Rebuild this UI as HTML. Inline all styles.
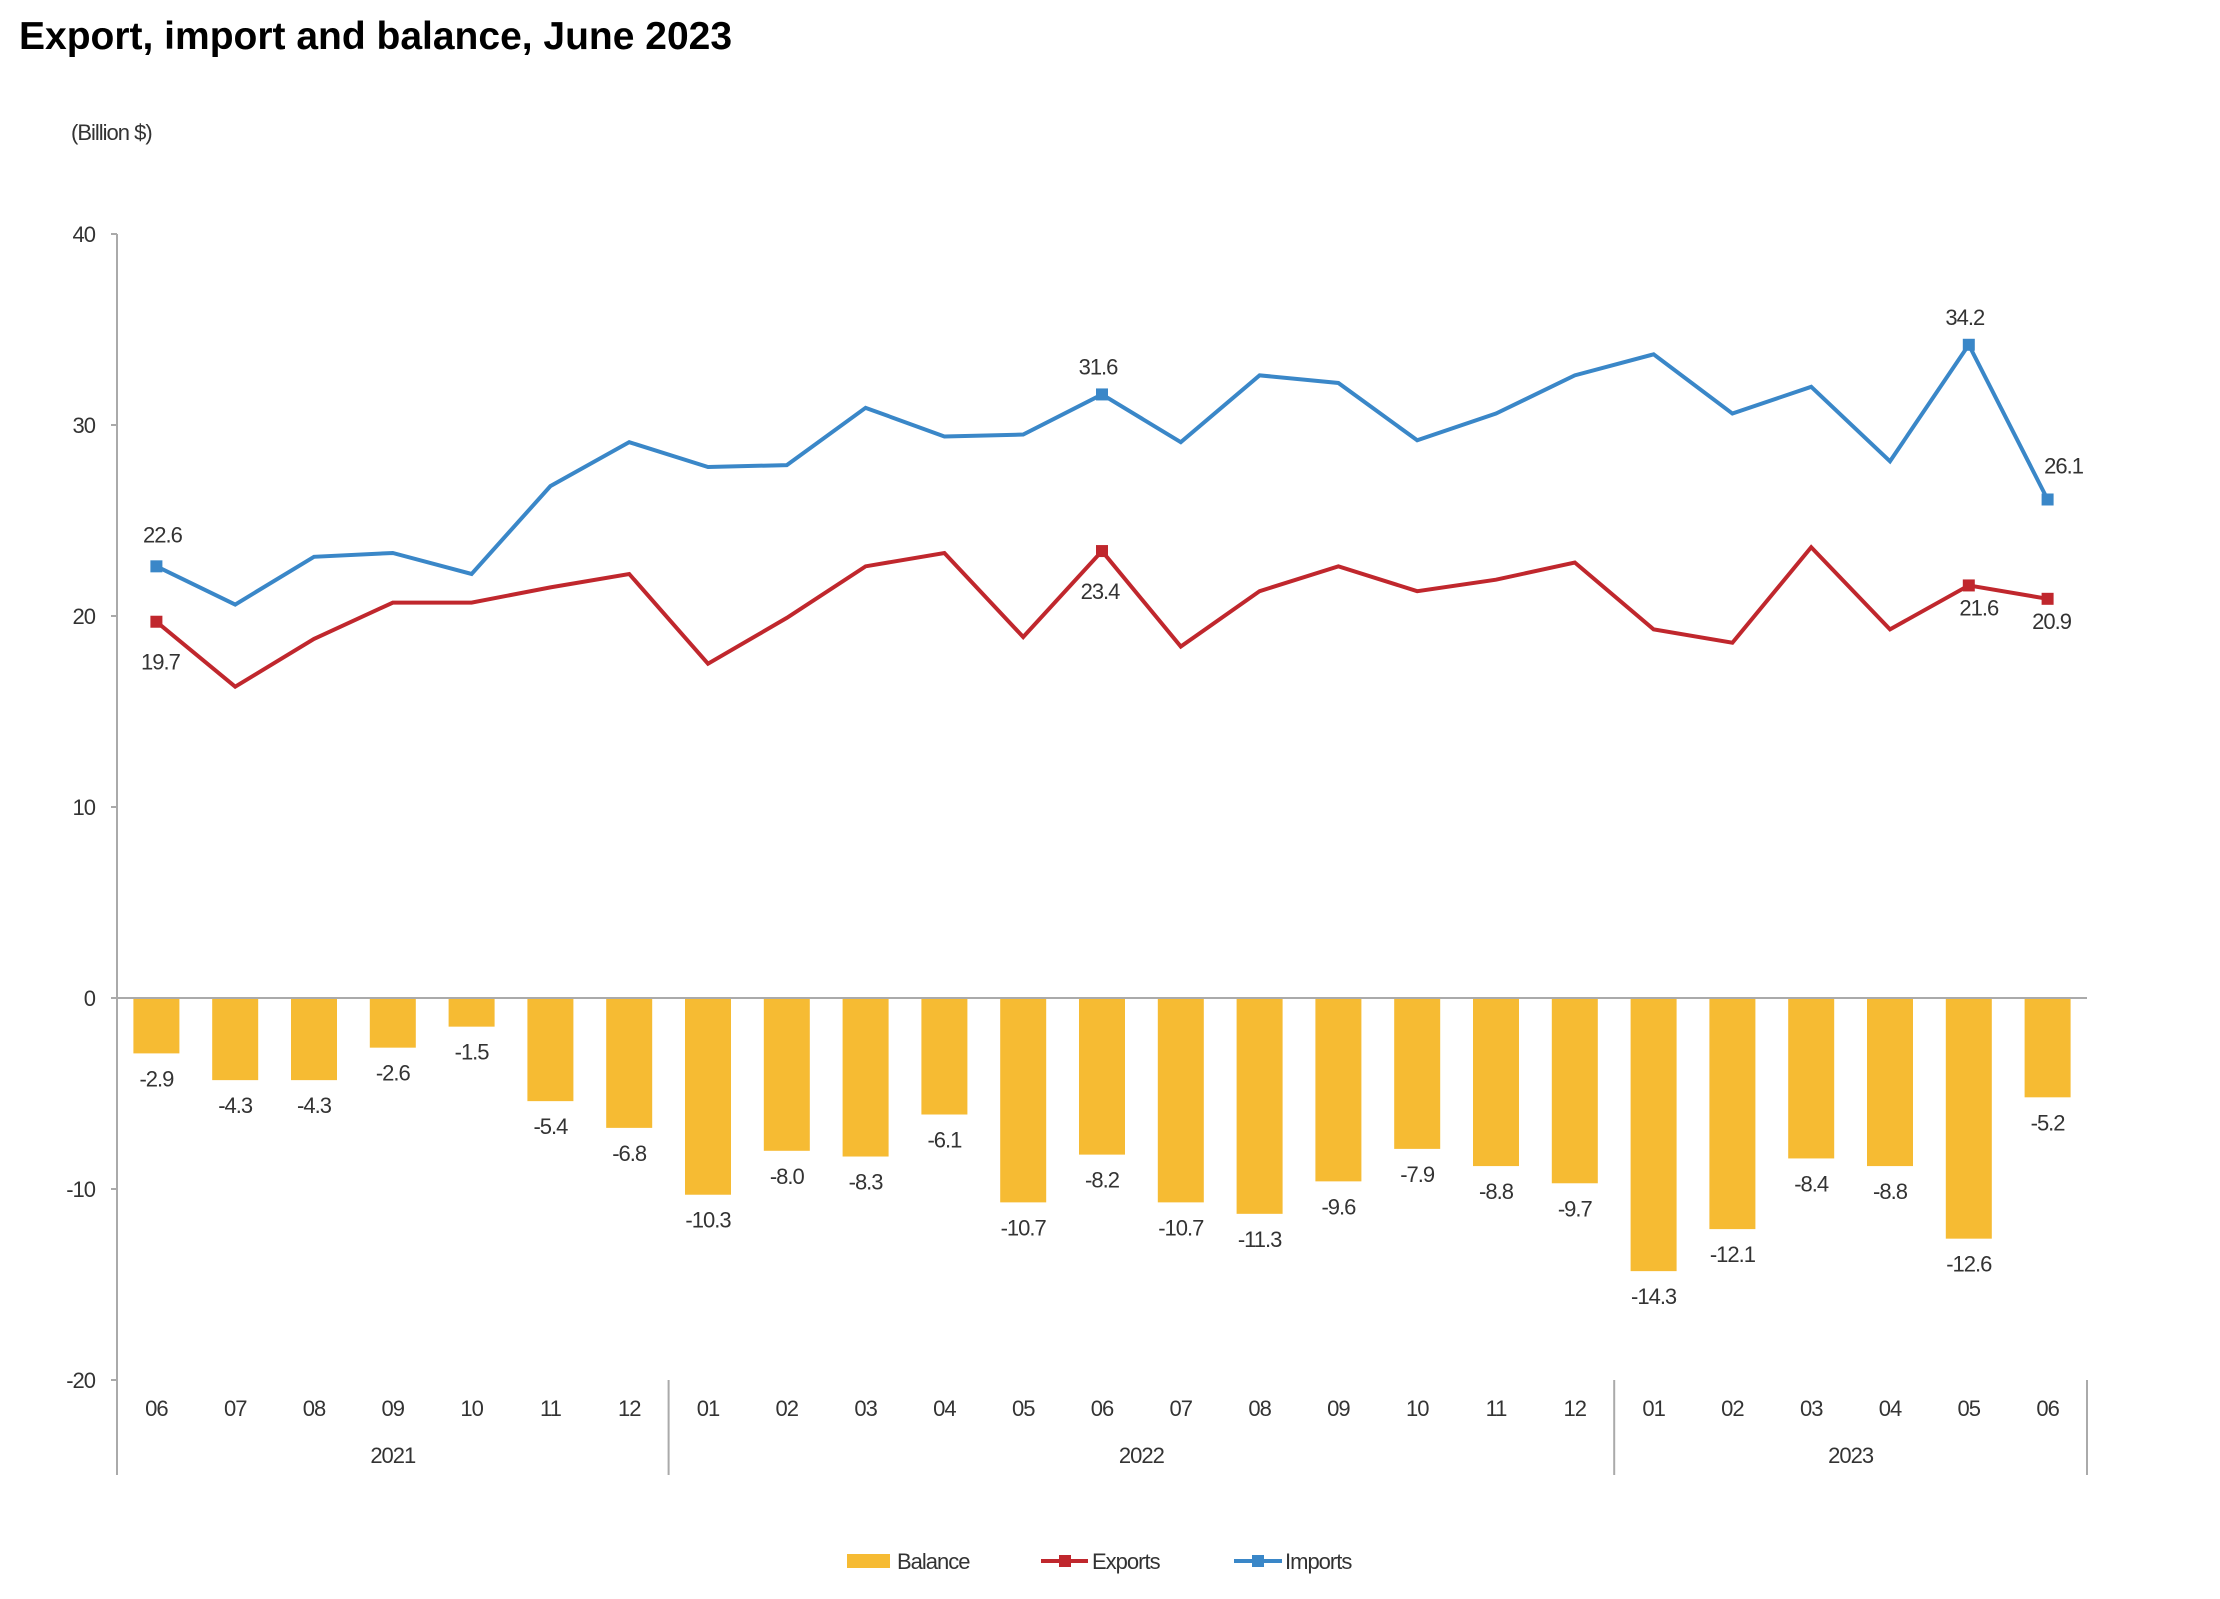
<!DOCTYPE html>
<html><head><meta charset="utf-8">
<style>
html,body{margin:0;padding:0;background:#fff;}
body{width:2220px;height:1599px;overflow:hidden;position:relative;font-family:"Liberation Sans",Arial,sans-serif;}
#title{position:absolute;left:19px;top:15px;font-size:39px;font-weight:bold;color:#000;}
svg{position:absolute;left:0;top:0;}
svg text{font-family:"Liberation Sans",Arial,sans-serif;fill:#333;letter-spacing:-1px;}
</style></head>
<body>
<div id="title">Export, import and balance, June 2023</div>
<svg id="chart" width="2220" height="1599"></svg>
<script>
const months = ["06","07","08","09","10","11","12","01","02","03","04","05","06","07","08","09","10","11","12","01","02","03","04","05","06"];
const years = ["2021","2022","2023"];
const yearSpans = [7,12,6];
const imports = [22.6,20.6,23.1,23.3,22.2,26.8,29.1,27.8,27.9,30.9,29.4,29.5,31.6,29.1,32.6,32.2,29.2,30.6,32.6,33.7,30.6,32.0,28.1,34.2,26.1];
const exportsV = [19.7,16.3,18.8,20.7,20.7,21.5,22.2,17.5,19.9,22.6,23.3,18.9,23.4,18.4,21.3,22.6,21.3,21.9,22.8,19.3,18.6,23.6,19.3,21.6,20.9];
const balance = [-2.9,-4.3,-4.3,-2.6,-1.5,-5.4,-6.8,-10.3,-8.0,-8.3,-6.1,-10.7,-8.2,-10.7,-11.3,-9.6,-7.9,-8.8,-9.7,-14.3,-12.1,-8.4,-8.8,-12.6,-5.2];
const yTicks = [40,30,20,10,0,-10,-20];
const labeledIdx = [0,12,23,24];

const svg = document.getElementById('chart');
const NS = 'http://www.w3.org/2000/svg';
const X0 = 117, X1 = 2087, Y40 = 234, PER = 19.1;
const bw = (X1 - X0) / months.length;
function xC(i){ return X0 + bw*(i+0.5); }
function yS(v){ return Y40 + (40 - v)*PER; }
function mk(tag, attrs, parent){
  const e = document.createElementNS(NS, tag);
  for (const k in attrs) e.setAttribute(k, attrs[k]);
  (parent||svg).appendChild(e);
  return e;
}
function txt(x,y,s,size,anchor,name){
  const t = mk('text',{x:x,y:y,'font-size':size,'text-anchor':anchor||'middle'});
  t.textContent = s;
  
  
  return t;
}
txt(71,140,"(Billion $)",22,'start','unit-label');
const ax = mk('line',{x1:X0,y1:Y40,x2:X0,y2:yS(-20),stroke:'#aaa','stroke-width':2});


yTicks.forEach(v=>{
  mk('line',{x1:X0-6,y1:yS(v),x2:X0,y2:yS(v),stroke:'#aaa','stroke-width':2});
  txt(95,yS(v)+8,String(v),22,'end','y-tick-label');
});
balance.forEach((v,i)=>{
  const r = mk('rect',{x:xC(i)-23,y:yS(0),width:46,height:yS(v)-yS(0),fill:'#F6BB33'});
  
  
  txt(xC(i),yS(v)+33,v.toFixed(1),22,'middle','balance-value-label');
});
const zl = mk('line',{x1:X0,y1:yS(0),x2:X1,y2:yS(0),stroke:'#aaa','stroke-width':2});


function series(vals,color,name){
  const p = mk('polyline',{points:vals.map((v,i)=>xC(i)+','+yS(v)).join(' '),fill:'none',stroke:color,'stroke-width':4,'stroke-linejoin':'miter'});
  
  
  labeledIdx.forEach(i=>{
    const m = mk('rect',{x:xC(i)-6,y:yS(vals[i])-6,width:12,height:12,fill:color});
    
    
  });
}
series(exportsV,'#C0272D','exports');
series(imports,'#3A87C8','imports');
txt(xC(0)+6,yS(imports[0])-24,imports[0].toFixed(1),22,'middle','imports-value-label');
txt(xC(12)-4,yS(imports[12])-20,imports[12].toFixed(1),22,'middle','imports-value-label');
txt(xC(23)-4,yS(imports[23])-20,imports[23].toFixed(1),22,'middle','imports-value-label');
txt(xC(24)+16,yS(imports[24])-26,imports[24].toFixed(1),22,'middle','imports-value-label');
txt(xC(0)+4,yS(exportsV[0])+48,exportsV[0].toFixed(1),22,'middle','exports-value-label');
txt(xC(12)-2,yS(exportsV[12])+48,exportsV[12].toFixed(1),22,'middle','exports-value-label');
txt(xC(23)+10,yS(exportsV[23])+30,exportsV[23].toFixed(1),22,'middle','exports-value-label');
txt(xC(24)+4,yS(exportsV[24])+30,exportsV[24].toFixed(1),22,'middle','exports-value-label');
months.forEach((m,i)=>txt(xC(i),1416,m,22,'middle','x-tick-label'));
let start = 0;
mk('line',{x1:X0,y1:yS(-20),x2:X0,y2:1475,stroke:'#aaa','stroke-width':2});
yearSpans.forEach((n,k)=>{
  const xe = X0 + bw*(start+n);
  mk('line',{x1:xe,y1:yS(-20),x2:xe,y2:1475,stroke:'#aaa','stroke-width':2});
  txt(X0 + bw*(start+n/2),1463,years[k],22,'middle','year-label');
  start += n;
});
const lg = mk('g',{});


mk('rect',{x:847,y:1554,width:43,height:14,fill:'#F6BB33'},lg);
txt(897,1569,'Balance',22,'start','legend-balance');
mk('line',{x1:1041,y1:1561,x2:1088,y2:1561,stroke:'#C0272D','stroke-width':4},lg);
mk('rect',{x:1059,y:1555,width:12,height:12,fill:'#C0272D'},lg);
txt(1092,1569,'Exports',22,'start','legend-exports');
mk('line',{x1:1234,y1:1561,x2:1282,y2:1561,stroke:'#3A87C8','stroke-width':4},lg);
mk('rect',{x:1252,y:1555,width:12,height:12,fill:'#3A87C8'},lg);
txt(1285,1569,'Imports',22,'start','legend-imports');
</script>
</body></html>
